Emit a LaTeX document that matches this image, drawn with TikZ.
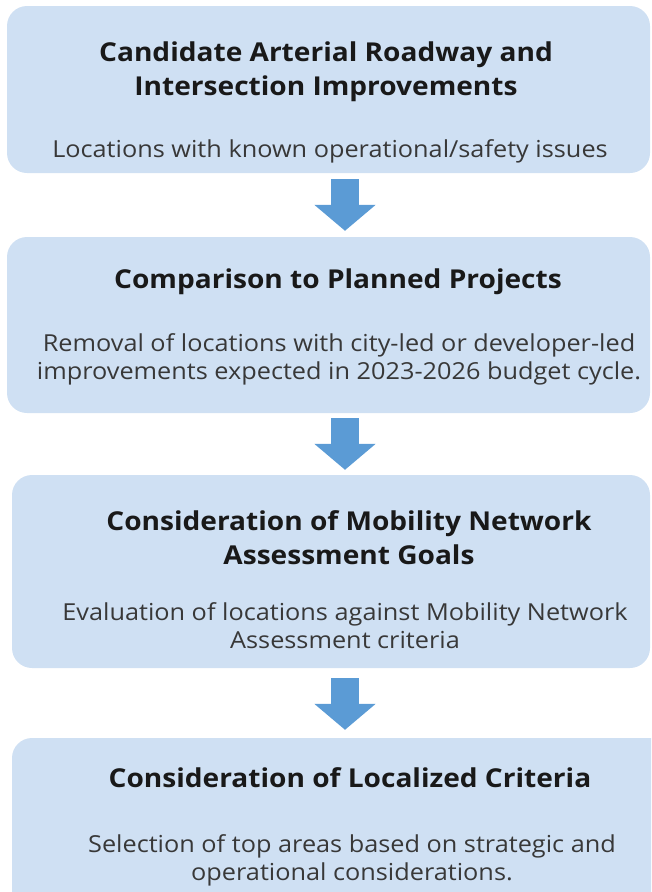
\documentclass[tikz,border=0pt]{standalone}
\usepackage{fontspec}
\setmainfont[FakeStretch=1.08]{Open Sans}
\usetikzlibrary{arrows.meta}

\definecolor{boxblue}{HTML}{CFE0F3}
\definecolor{arrowblue}{HTML}{5B9BD5}

\begin{document}
\begin{tikzpicture}[x=1pt, y=-1pt,
  box/.style={rounded corners=20pt, fill=boxblue, inner sep=0pt},
  ttl/.style={font=\fontsize{26}{34}\selectfont\bfseries, text=black!90, align=center},
  txt/.style={font=\fontsize{23.4}{28}\selectfont, text=black!78, align=center},
  a/.style={line width=28pt, arrowblue, -{Triangle[length=26pt, width=60pt]}}]
  \path[use as bounding box, clip] (0,0) rectangle (651,892);
  % the four steps
  \node[box, minimum width=643pt, minimum height=167pt] (b1) at (328.5,89.5) {};
  \node[box, minimum width=643pt, minimum height=176pt] (b2) at (328.5,325) {};
  \node[box, minimum width=638pt, minimum height=193pt] (b3) at (331,571.5) {};
  \node[box, minimum width=658pt, minimum height=172pt] (b4) at (341,824) {};
  \node[ttl] (t1) at (326,72) {Candidate Arterial Roadway and\\Intersection Improvements};
  \node[txt] (s1) at (330,151) {Locations with known operational/safety issues};
  \node[ttl] (t2) at (338,282) {Comparison to Planned Projects};
  \node[txt] (s2) at (339,359) {Removal of locations with city-led or developer-led\\improvements expected in 2023-2026 budget cycle.};
  \node[ttl] (t3) at (349,538) {Consideration of Mobility Network\\Assessment Goals};
  \node[txt] (s3) at (345,626) {Evaluation of locations against Mobility Network\\Assessment criteria};
  \node[ttl] (t4) at (350,778) {Consideration of Localized Criteria};
  \node[txt] (s4) at (352,860) {Selection of top areas based on strategic and\\operational considerations.};
  % arrows between the steps
  \draw[a] ([xshift=16.5pt, yshift=-6pt]b1.south) -- ([xshift=16.5pt, yshift=6pt]b2.north);
  \draw[a] ([xshift=16.5pt, yshift=-5pt]b2.south) -- ([xshift=14pt, yshift=5pt]b3.north);
  \draw[a] ([xshift=14pt, yshift=-10pt]b3.south) -- ([xshift=4pt, yshift=8pt]b4.north);
\end{tikzpicture}
\end{document}
